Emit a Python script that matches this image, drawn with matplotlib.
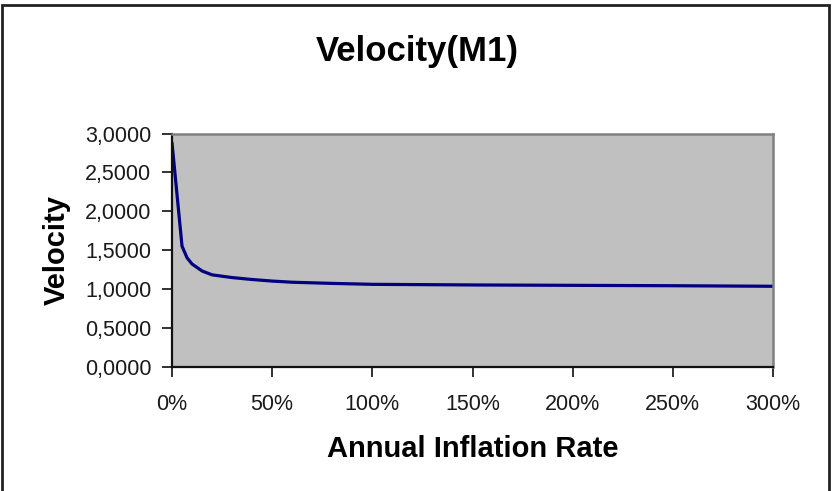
import matplotlib
matplotlib.use("Agg")
import matplotlib.pyplot as plt
from matplotlib.patches import Rectangle
from matplotlib.ticker import FuncFormatter, MultipleLocator

# Data
inflation_pct = [0, 5, 7.5, 10, 15, 20, 30, 40, 50, 60, 80, 100, 150, 200, 250, 300]
velocity = [2.88, 1.55, 1.40, 1.32, 1.23, 1.18, 1.145, 1.12, 1.10, 1.085, 1.07,
            1.058, 1.05, 1.045, 1.04, 1.033]
title = "Velocity(M1)"
xlabel = "Annual Inflation Rate"
ylabel = "Velocity"

plt.rcParams['font.family'] = ['Liberation Sans', 'DejaVu Sans']

fig = plt.figure(figsize=(8.34, 4.91), dpi=100)
ax = fig.add_axes([172/834, 1-366.5/491, (773-172)/834, (366.5-133.5)/491])
ax.set_facecolor('#C0C0C0')

ax.plot(inflation_pct, velocity, color='#000080', linewidth=2.3,
        solid_joinstyle='round', solid_capstyle='round')

ax.set_xlim(0, 300)
ax.set_ylim(0, 3.0)
ax.xaxis.set_major_locator(MultipleLocator(50))
ax.yaxis.set_major_locator(MultipleLocator(0.5))
ax.xaxis.set_major_formatter(FuncFormatter(lambda v, p: f"{int(round(v))}%"))
ax.yaxis.set_major_formatter(FuncFormatter(lambda v, p: f"{v:.4f}".replace('.', ',')))

ax.tick_params(axis='both', direction='out', length=7, width=1.3, color='#222222',
               labelsize=15.5, labelcolor='#1a1a1a')
ax.tick_params(axis='y', pad=8)
ax.tick_params(axis='x', pad=13)

for side in ['left', 'bottom']:
    ax.spines[side].set_color('#111111')
    ax.spines[side].set_linewidth(1.6)
for side in ['top', 'right']:
    ax.spines[side].set_color('#808080')
    ax.spines[side].set_linewidth(1.8)

ax.set_xlabel(xlabel, fontsize=21, fontweight='bold', labelpad=14)
ax.set_ylabel(ylabel, fontsize=21, fontweight='bold', labelpad=10)
fig.text(0.5, 1-52/491, title, ha='center', va='center', fontsize=25, fontweight='bold')

# outer chart border
fig.patches.append(Rectangle((1.5/834, -0.02), 827.5/834, 1.02-5/491,
                             transform=fig.transFigure, fill=False,
                             edgecolor='#222222', linewidth=2))

fig.savefig("out.png", dpi=100)
